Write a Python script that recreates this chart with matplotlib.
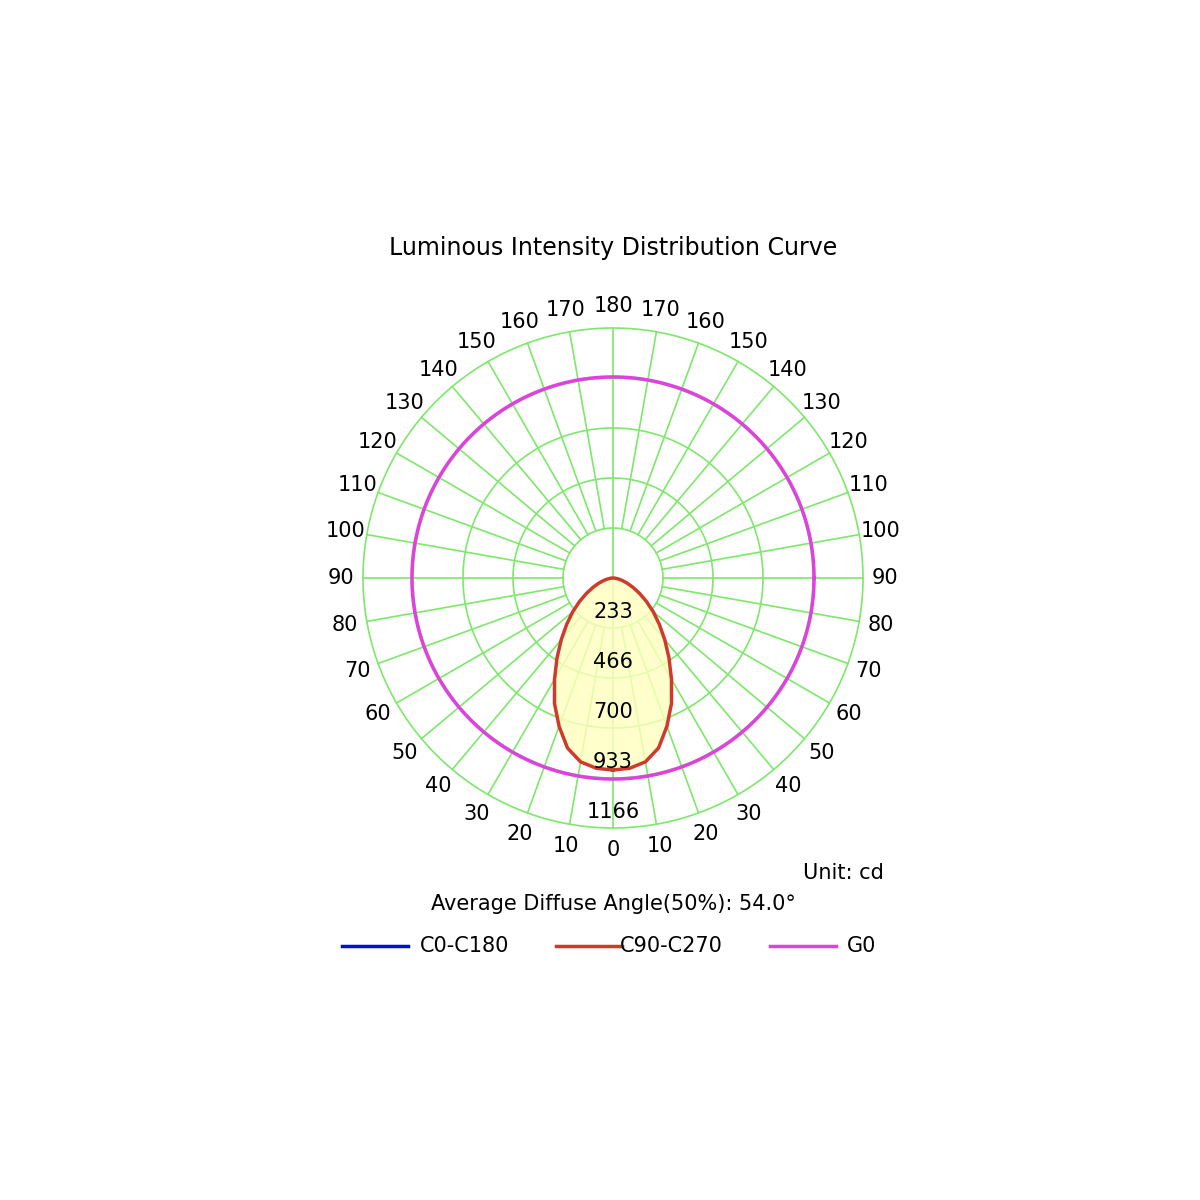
import numpy as np
import matplotlib as mpl
mpl.use('Agg')
import matplotlib.pyplot as plt

plt.rcParams['font.family'] = 'DejaVu Sans'

# intensity (cd) of C90-C270 vs gamma angle (deg, 0 = down)
gamma = [0, 5, 10, 15, 20, 25, 30, 35, 40, 45, 50, 55, 60, 65, 70, 75, 80, 85, 90]
c90 = [895, 890, 870, 820, 735, 645, 545, 455, 375, 305, 245, 190, 142, 102, 70, 45, 25, 10, 0]
g0_value = 937
ring_values = [233, 466, 700, 933, 1166]
angle_ticks = list(range(0, 190, 10))

cx, cy = 613, 578
px_per_cd = 50 / 233
hole = 50
rmax = 250
grid_c = '#7de86a'

fig = plt.figure(figsize=(12, 12), dpi=100)
ax = fig.add_axes([0, 0, 1, 1])
ax.set_xlim(0, 1200)
ax.set_ylim(1200, 0)
ax.axis('off')

t = np.linspace(0, 2 * np.pi, 400)
for r in [hole, 100, 150, 200, rmax]:
    ax.plot(cx + r * np.cos(t), cy + r * np.sin(t), color=grid_c, lw=1.2, zorder=1)
for a in range(0, 360, 10):
    th = np.radians(a)
    r0 = 0 if a % 180 == 0 else hole
    ax.plot([cx + r0 * np.sin(th), cx + rmax * np.sin(th)],
            [cy + r0 * np.cos(th), cy + rmax * np.cos(th)], color=grid_c, lw=1.2, zorder=1)

# G0 circle
rg = g0_value * px_per_cd
ax.plot(cx + rg * np.cos(t), cy + rg * np.sin(t), color='#e040e0', lw=2.5, zorder=3)

# C90-C270 curve (symmetric)
g = np.radians(np.array(gamma))
r = np.array(c90) * px_per_cd
xs = np.concatenate([cx + r * np.sin(g), (cx - r * np.sin(g))[::-1]])
ys = np.concatenate([cy + r * np.cos(g), (cy + r * np.cos(g))[::-1]])
ax.fill(xs, ys, color='#ffffc0', alpha=0.8, zorder=2)
ax.plot(xs, ys, color='#d03a2c', lw=2.5, zorder=4)

fs = 15
for v in ring_values:
    ax.text(cx, cy + v * px_per_cd - 16, str(v), ha='center', va='center', fontsize=fs, zorder=5)

rl = 272
for a in angle_ticks:
    th = np.radians(a)
    ax.text(cx - rl * np.sin(th), cy + rl * np.cos(th), str(a), ha='center', va='center', fontsize=fs)
    if 0 < a < 180:
        ax.text(cx + rl * np.sin(th), cy + rl * np.cos(th), str(a), ha='center', va='center', fontsize=fs)

ax.text(613, 248, 'Luminous Intensity Distribution Curve', ha='center', va='center', fontsize=17)
ax.text(884, 873, 'Unit: cd', ha='right', va='center', fontsize=15)
ax.text(613, 904, 'Average Diffuse Angle(50%): 54.0°', ha='center', va='center', fontsize=15)

legend = [('C0-C180', '#0010d0', 342, 420), ('C90-C270', '#d03a2c', 556, 620), ('G0', '#e040e0', 770, 847)]
for label, col, x0, xt in legend:
    ax.plot([x0, x0 + 66], [946, 946], color=col, lw=2.5)
    ax.text(xt, 946, label, ha='left', va='center', fontsize=15)

fig.savefig('out.png')
